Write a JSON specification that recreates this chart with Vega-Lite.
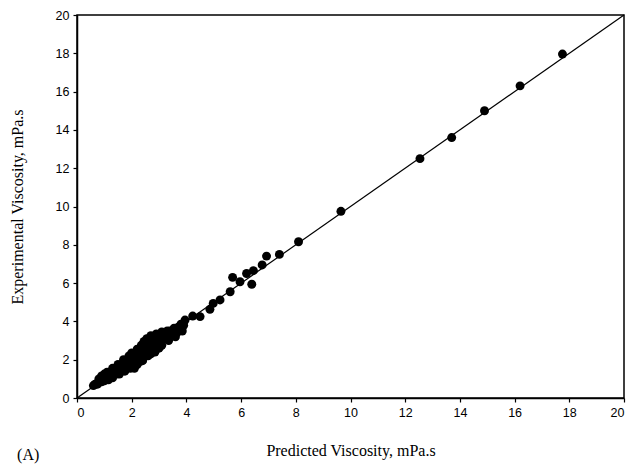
{
  "$schema": "https://vega.github.io/schema/vega-lite/v6.json",
  "width": 547,
  "height": 383,
  "autosize": "none",
  "padding": {"left": 77, "top": 15, "right": 10, "bottom": 66},
  "background": "white",
  "config": {
    "view": {"stroke": "black", "strokeWidth": 1.5},
    "axis": {
      "grid": false,
      "domainColor": "black",
      "domainWidth": 1.5,
      "tickColor": "black",
      "tickSize": 4,
      "tickWidth": 1.2,
      "labelFont": "Liberation Sans",
      "labelFontSize": 12.5,
      "labelColor": "black",
      "labelOverlap": false,
      "labelPadding": 4,
      "titleFont": "Liberation Serif",
      "titleFontSize": 16,
      "titleFontWeight": "normal",
      "titleColor": "black"
    }
  },
  "title": {
    "text": "(A)",
    "orient": "bottom",
    "anchor": "start",
    "frame": "bounds",
    "font": "Liberation Serif",
    "fontSize": 16,
    "fontWeight": "normal",
    "color": "black",
    "offset": -12,
    "dx": 8
  },
  "encoding": {
    "x": {"field": "p", "type": "quantitative", "scale": {"domain": [0, 20], "nice": false}, "axis": {"title": "Predicted Viscosity, mPa.s", "values": [0,2,4,6,8,10,12,14,16,18,20], "titlePadding": 24}},
    "y": {"field": "e", "type": "quantitative", "scale": {"domain": [0, 20], "nice": false}, "axis": {"title": "Experimental Viscosity, mPa.s", "values": [0,2,4,6,8,10,12,14,16,18,20], "titlePadding": 30}}
  },
  "layer": [
    {
      "data": {"values": [{"p": 0, "e": 0}, {"p": 20, "e": 20}]},
      "mark": {"type": "line", "color": "black", "strokeWidth": 1.2}
    },
    {
      "data": {"values": [
        {"p":0.6,"e":0.65},{"p":0.65,"e":0.7},{"p":0.7,"e":0.75},{"p":0.75,"e":0.72},{"p":0.8,"e":0.85},{"p":0.85,"e":0.9},{"p":0.9,"e":0.85},{"p":0.9,"e":1.0},{"p":0.95,"e":0.95},{"p":1.0,"e":1.05},{"p":1.0,"e":0.9},{"p":1.05,"e":1.15},{"p":1.1,"e":1.0},{"p":1.1,"e":1.2},{"p":1.15,"e":1.1},{"p":1.2,"e":1.3},{"p":1.2,"e":1.15},{"p":1.25,"e":1.25},{"p":1.3,"e":1.4},{"p":1.3,"e":1.2},{"p":1.35,"e":1.35},{"p":1.4,"e":1.5},{"p":1.4,"e":1.3},{"p":1.45,"e":1.55},{"p":1.45,"e":1.25},{"p":1.5,"e":1.45},{"p":1.5,"e":1.6},{"p":1.55,"e":1.5},{"p":1.6,"e":1.7},{"p":1.6,"e":1.45},{"p":1.65,"e":1.6},{"p":1.7,"e":1.8},{"p":1.7,"e":1.55},{"p":1.75,"e":1.75},{"p":1.8,"e":1.9},{"p":1.8,"e":1.7},{"p":1.85,"e":1.85},{"p":1.9,"e":2.0},{"p":1.9,"e":1.75},{"p":1.95,"e":1.9},{"p":2.0,"e":2.1},{"p":2.0,"e":1.8},{"p":2.05,"e":1.6},{"p":2.05,"e":2.0},{"p":2.1,"e":2.2},{"p":2.1,"e":1.95},{"p":2.15,"e":2.1},{"p":2.2,"e":2.3},{"p":2.2,"e":2.05},{"p":2.25,"e":2.2},{"p":2.3,"e":2.4},{"p":2.3,"e":2.15},{"p":2.35,"e":2.3},{"p":2.4,"e":2.55},{"p":2.42,"e":2.07},{"p":2.45,"e":2.45},{"p":2.5,"e":2.7},{"p":2.5,"e":2.3},{"p":2.55,"e":2.9},{"p":2.55,"e":2.5},{"p":2.6,"e":3.05},{"p":2.6,"e":2.6},{"p":2.65,"e":2.8},{"p":2.65,"e":2.4},{"p":2.7,"e":3.1},{"p":2.7,"e":2.7},{"p":2.75,"e":2.9},{"p":2.75,"e":2.55},{"p":2.8,"e":3.0},{"p":2.8,"e":2.75},{"p":2.85,"e":3.15},{"p":2.85,"e":2.6},{"p":2.9,"e":3.0},{"p":2.9,"e":2.8},{"p":2.95,"e":3.2},{"p":2.95,"e":2.7},{"p":3.0,"e":3.3},{"p":3.0,"e":2.95},{"p":3.05,"e":3.1},{"p":3.05,"e":2.85},{"p":3.1,"e":3.3},{"p":3.1,"e":3.0},{"p":3.2,"e":3.4},{"p":3.2,"e":3.1},{"p":3.3,"e":3.35},{"p":3.3,"e":3.2},{"p":3.4,"e":3.5},{"p":3.45,"e":3.35},{"p":3.5,"e":3.5},{"p":3.6,"e":3.55},{"p":3.65,"e":3.4},{"p":3.7,"e":3.7},{"p":3.8,"e":3.85},
        {"p":0.8,"e":1.0},{"p":0.9,"e":1.15},{"p":1.0,"e":1.25},{"p":1.1,"e":1.35},{"p":1.3,"e":1.55},{"p":1.5,"e":1.75},{"p":1.7,"e":2.0},{"p":1.9,"e":2.2},{"p":2.0,"e":2.35},{"p":2.2,"e":2.55},{"p":2.35,"e":2.75},{"p":2.45,"e":2.95},{"p":2.55,"e":3.1},{"p":2.7,"e":3.25},{"p":2.9,"e":3.35},{"p":3.1,"e":3.45},{"p":3.3,"e":3.5},{"p":3.55,"e":3.65},{"p":3.75,"e":3.6},{"p":3.9,"e":3.8},{"p":3.85,"e":3.5},{"p":3.6,"e":3.2},{"p":3.35,"e":3.0},{"p":3.1,"e":2.75},{"p":2.85,"e":2.4},{"p":2.6,"e":2.2},{"p":2.4,"e":1.95},{"p":2.2,"e":1.75},{"p":1.95,"e":1.55},{"p":1.75,"e":1.4},{"p":1.55,"e":1.25},{"p":1.3,"e":1.05},{"p":1.15,"e":0.95},{"p":2.1,"e":1.55},{"p":2.3,"e":1.9},{"p":2.7,"e":2.3},{"p":3.0,"e":2.6},
        {"p":3.95,"e":4.07},{"p":4.23,"e":4.28},{"p":4.5,"e":4.25},{"p":4.86,"e":4.63},{"p":4.98,"e":4.94},{"p":5.23,"e":5.12},{"p":5.6,"e":5.55},{"p":5.69,"e":6.3},{"p":5.96,"e":6.07},{"p":6.2,"e":6.5},{"p":6.39,"e":5.94},{"p":6.45,"e":6.65},{"p":6.77,"e":6.95},{"p":6.93,"e":7.41},{"p":7.4,"e":7.5},{"p":8.1,"e":8.16},
        {"p":9.65,"e":9.75},{"p":12.54,"e":12.5},{"p":13.7,"e":13.6},{"p":14.9,"e":15.0},{"p":16.2,"e":16.3},{"p":17.75,"e":17.96}
      ]},
      "mark": {"type": "circle", "color": "black", "opacity": 1, "size": 80}
    }
  ]
}
